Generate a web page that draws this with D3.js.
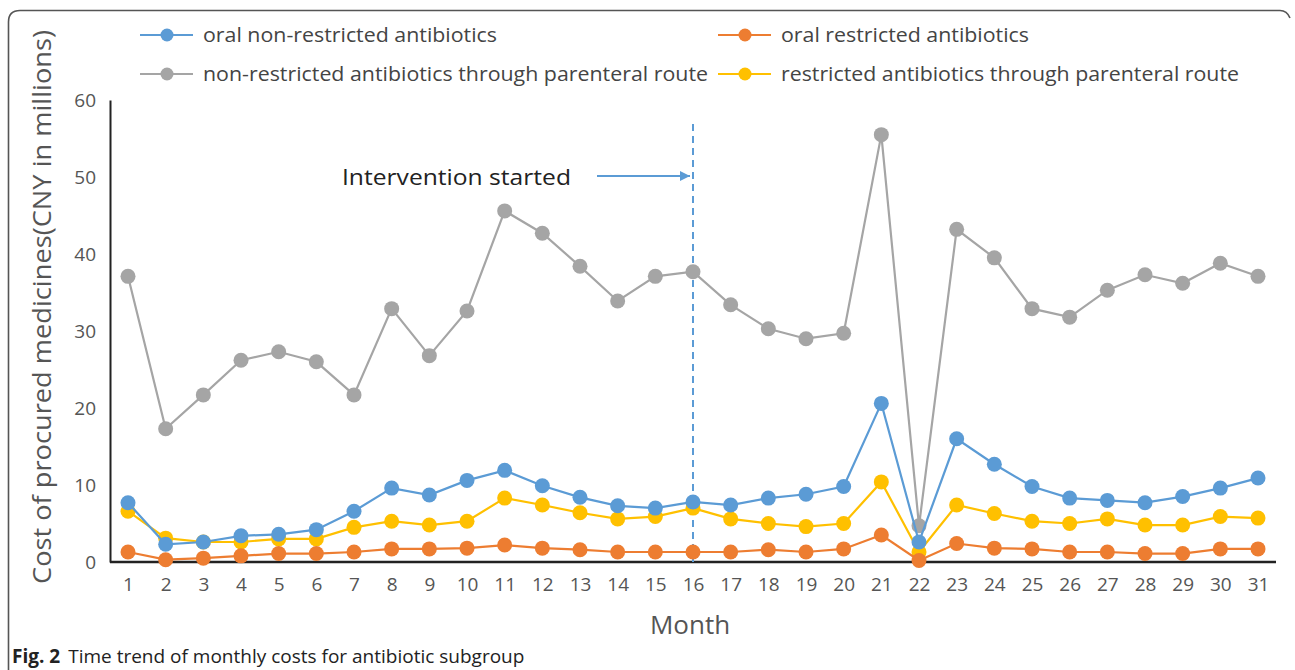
<!DOCTYPE html>
<html><head><meta charset="utf-8">
<script src="https://cdn.jsdelivr.net/npm/d3@7"></script>
<style>body{margin:0;background:#fff}svg{display:block}</style>
</head><body>
<svg id="c" width="1295" height="670"></svg>
<script>
const months = d3.range(1, 32);
const oralNonRestricted = [7.7,2.3,2.6,3.4,3.6,4.2,6.6,9.6,8.7,10.6,11.9,9.9,8.4,7.3,7.0,7.8,7.4,8.3,8.8,9.8,20.6,2.6,16.0,12.7,9.8,8.3,8.0,7.7,8.5,9.6,10.9];
const oralRestricted = [1.3,0.3,0.5,0.8,1.1,1.1,1.3,1.7,1.7,1.8,2.2,1.8,1.6,1.3,1.3,1.3,1.3,1.6,1.3,1.7,3.5,0.2,2.4,1.8,1.7,1.3,1.3,1.1,1.1,1.7,1.7];
const parenteralNonRestricted = [37.1,17.3,21.7,26.2,27.3,26.0,21.7,32.9,26.8,32.6,45.6,42.7,38.4,33.9,37.1,37.7,33.4,30.3,29.0,29.7,55.5,4.7,43.2,39.5,32.9,31.8,35.3,37.3,36.2,38.8,37.1];
const parenteralRestricted = [6.6,3.1,2.6,2.6,3.0,3.0,4.5,5.3,4.8,5.3,8.3,7.4,6.4,5.6,5.9,7.0,5.6,5.0,4.6,5.0,10.4,1.3,7.4,6.3,5.3,5.0,5.6,4.8,4.8,5.9,5.7];
const yTicks = [0,10,20,30,40,50,60];
const seriesNames = ["oral non-restricted antibiotics","oral restricted antibiotics","non-restricted antibiotics through parenteral route","restricted antibiotics through parenteral route"];
const seriesColors = ["#5B9BD5","#ED7D31","#A5A5A5","#FFC000"];
const interventionMonth = 16;

const series = [
  {name: seriesNames[2], values: parenteralNonRestricted, color: seriesColors[2]},
  {name: seriesNames[3], values: parenteralRestricted, color: seriesColors[3]},
  {name: seriesNames[0], values: oralNonRestricted, color: seriesColors[0]},
  {name: seriesNames[1], values: oralRestricted, color: seriesColors[1]}
];

const svg = d3.select("#c");
const font = "'Open Sans', 'DejaVu Sans', sans-serif";

// frame
svg.append("path")
  .attr("d", "M8.5,670 L8.5,22 Q8.5,10.5 20,10.5 L1280,10.5 Q1287,10.5 1290,18")
  .attr("fill","none").attr("stroke","#555").attr("stroke-width",1.6);

const x = d3.scalePoint().domain(months).range([128, 1258]);
const y = d3.scaleLinear().domain([0, 60]).range([562, 100]);

// axes
const yAxis = svg.append("g").attr("transform","translate(110,0)")
  .call(d3.axisLeft(y).tickValues(yTicks).tickSize(0).tickPadding(14));
yAxis.select(".domain").attr("stroke","#222").attr("stroke-width",2);
yAxis.selectAll("text").attr("font-family",font).attr("font-size",19).attr("fill","#555");

const xAxis = svg.append("g").attr("transform","translate(0,562)")
  .call(d3.axisBottom(x).tickSize(0).tickPadding(16));
xAxis.select(".domain").attr("d","M110,0H1276").attr("stroke","#222").attr("stroke-width",2.5);
xAxis.selectAll("text").attr("font-family",font).attr("font-size",19).attr("fill","#555");

// axis titles
svg.append("text").attr("transform","translate(51,307) rotate(-90)")
  .attr("text-anchor","middle").attr("font-family",font).attr("font-size",26).attr("fill","#555")
  .attr("textLength",554).attr("lengthAdjust","spacingAndGlyphs")
  .text("Cost of procured medicines(CNY in millions)");
svg.append("text").attr("x",690).attr("y",634).attr("text-anchor","middle")
  .attr("font-family",font).attr("font-size",26).attr("fill","#555").text("Month");

// intervention line
svg.append("line").attr("x1",x(interventionMonth)).attr("x2",x(interventionMonth))
  .attr("y1",124).attr("y2",562).attr("stroke","#5B9BD5").attr("stroke-width",2).attr("stroke-dasharray","7,5");
svg.append("defs").append("marker").attr("id","arr").attr("viewBox","0 0 10 10")
  .attr("refX",10).attr("refY",5).attr("markerWidth",5).attr("markerHeight",5).attr("orient","auto")
  .append("path").attr("d","M0,0L10,5L0,10z").attr("fill","#5B9BD5");
svg.append("line").attr("x1",597).attr("x2",x(interventionMonth)-3).attr("y1",176).attr("y2",176)
  .attr("stroke","#5B9BD5").attr("stroke-width",2).attr("marker-end","url(#arr)");
svg.append("text").attr("x",342).attr("y",185).attr("font-family",font).attr("font-size",22.5).attr("fill","#222")
  .attr("textLength",229).attr("lengthAdjust","spacingAndGlyphs")
  .text("Intervention started");

// series
const line = d3.line().x((d,i)=>x(months[i])).y(d=>y(d));
series.forEach(s => {
  const g = svg.append("g");
  g.append("path").datum(s.values).attr("d", line).attr("fill","none")
    .attr("stroke", s.color).attr("stroke-width", 2.2);
  g.selectAll("circle").data(s.values).join("circle")
    .attr("cx",(d,i)=>x(months[i])).attr("cy",d=>y(d)).attr("r",7.5).attr("fill",s.color);
});

// legend
const legendPos = [[140,35],[718,35],[140,74],[718,74]];
const legendWidths = [294,248,505,458];
seriesNames.forEach((n,i) => {
  const [lx, ly] = legendPos[i];
  const g = svg.append("g");
  g.append("line").attr("x1",lx).attr("x2",lx+53).attr("y1",ly).attr("y2",ly)
    .attr("stroke",seriesColors[i]).attr("stroke-width",2.2);
  g.append("circle").attr("cx",lx+27).attr("cy",ly).attr("r",6.5).attr("fill",seriesColors[i]);
  g.append("text").attr("x",lx+63).attr("y",ly+7).attr("font-family",font).attr("font-size",20)
    .attr("textLength",legendWidths[i]).attr("lengthAdjust","spacingAndGlyphs")
    .attr("fill","#444").text(n);
});

// caption
const cap = svg.append("text").attr("x",12).attr("y",663).attr("font-family",font).attr("font-size",19).attr("fill","#222");
cap.append("tspan").attr("font-weight","bold").text("Fig. 2");
cap.append("tspan").attr("dx",8).text("Time trend of monthly costs for antibiotic subgroup");
</script>
</body></html>
